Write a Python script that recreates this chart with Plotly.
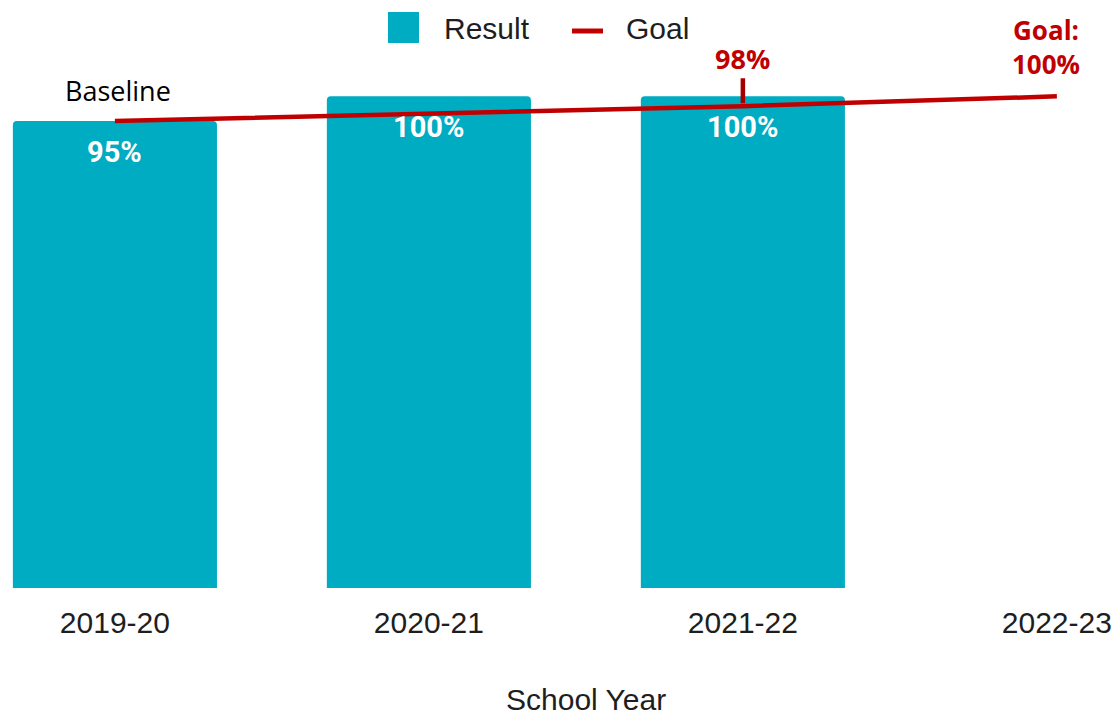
import plotly.graph_objects as go

# ---- data -------------------------------------------------------------
years = ["2019-20", "2020-21", "2021-22", "2022-23"]
result = [95, 100, 100, None]
goal = [95, 96.5, 98, 100]

# ---- styling ----------------------------------------------------------
TEAL = "#00ACC1"
RED = "#C00000"
DARK_RED = "#A50000"
TEXT = "#1E1E1E"

W, H = 1114, 719
PLOT_BOTTOM = 588  # pixel row of the x axis (margins l=r=t=0)


def px_x(px):
    """Horizontal pixel -> paper fraction."""
    return px / W


def px_y(py):
    """Vertical pixel (from top) -> paper fraction."""
    return (PLOT_BOTTOM - py) / PLOT_BOTTOM


fig = go.Figure()

fig.add_trace(go.Bar(
    x=years, y=result, width=0.65,
    marker=dict(color=TEAL, line_width=0),
    name="Result", showlegend=False, hoverinfo="skip",
))

fig.add_trace(go.Scatter(
    x=years, y=goal, mode="lines",
    line=dict(color=RED, width=4.5),
    name="Goal", showlegend=False, hoverinfo="skip",
))

annotations = []

# value labels inside the bars
for yr, v in zip(years, result):
    if v is None:
        continue
    annotations.append(dict(
        x=yr, y=v, text=f"<b>{v}%</b>", showarrow=False,
        yanchor="middle", yshift=-31,
        font=dict(family="Roboto", size=29, color="white"),
    ))

# baseline label above the first bar
annotations.append(dict(
    x=years[0], y=result[0], text="Baseline", showarrow=False,
    yanchor="middle", yshift=30, xshift=3,
    font=dict(family="Open Sans", size=27, color="black"),
))

# interim goal marker
annotations.append(dict(
    x=years[2], y=goal[2], text=f"<b>{goal[2]:g}%</b>",
    showarrow=True, arrowhead=0, arrowwidth=4.5, arrowcolor=DARK_RED,
    ax=0, ay=-48, standoff=3,
    font=dict(family="Open Sans", size=27, color=RED),
))

# final goal label
annotations.append(dict(
    x=years[3], y=goal[3], text=f"<b>Goal:<br>{goal[3]:g}%</b>",
    showarrow=False, align="center",
    yanchor="middle", xshift=-11, yshift=49,
    font=dict(family="Open Sans", size=26, color=RED),
))

# x axis title
annotations.append(dict(
    xref="paper", yref="paper", x=px_x(586), y=px_y(718),
    xanchor="center", yanchor="bottom", text="School Year", showarrow=False,
    font=dict(family="Liberation Sans", size=30, color=TEXT),
))

# legend entries
annotations.append(dict(
    xref="paper", yref="paper", x=px_x(442), y=px_y(28),
    xanchor="left", yanchor="middle", text="Result", showarrow=False,
    font=dict(family="Liberation Sans", size=30, color=TEXT),
))
annotations.append(dict(
    xref="paper", yref="paper", x=px_x(624), y=px_y(28),
    xanchor="left", yanchor="middle", text="Goal", showarrow=False,
    font=dict(family="Liberation Sans", size=30, color=TEXT),
))

shapes = [
    dict(type="rect", xref="paper", yref="paper",
         x0=px_x(388), x1=px_x(419), y0=px_y(43), y1=px_y(12),
         fillcolor=TEAL, line_width=0),
    dict(type="line", xref="paper", yref="paper",
         x0=px_x(572), x1=px_x(603), y0=px_y(31), y1=px_y(31),
         line=dict(color=RED, width=5)),
]

fig.update_layout(
    width=W, height=H,
    margin=dict(l=0, r=0, t=0, b=H - PLOT_BOTTOM, pad=0),
    paper_bgcolor="white", plot_bgcolor="white",
    barcornerradius=4,
    showlegend=False,
    annotations=annotations,
    shapes=shapes,
    xaxis=dict(
        type="category",
        categoryorder="array", categoryarray=years,
        range=[-0.366, 3.182],
        showgrid=False, zeroline=False, showline=False, ticks="",
        ticklabelstandoff=14,
        tickfont=dict(family="Liberation Sans", size=30, color=TEXT),
    ),
    yaxis=dict(
        range=[0, 119.6],
        showgrid=False, zeroline=False, showline=False,
        showticklabels=False, ticks="",
    ),
)

fig.write_html("out.html")
